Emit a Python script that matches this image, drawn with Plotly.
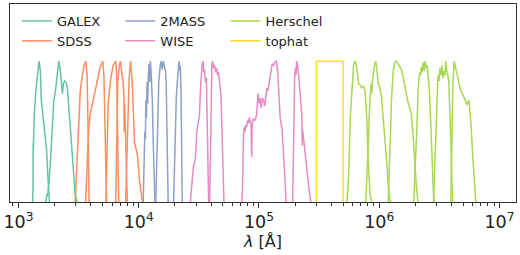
import plotly.graph_objects as go

# ---------------- data: filter transmission curves (wavelength in Angstrom, normalised transmission) -------------
GALEX_FUV_WL = [1310, 1323, 1326, 1333, 1341, 1350, 1393, 1446, 1482, 1500, 1522, 1551, 1575, 1599, 1651, 1714, 1758, 1791, 1810]
GALEX_FUV_T = [0.0, 0.1, 0.42, 0.38, 0.5, 0.6, 0.78, 0.94, 1.0, 0.97, 0.93, 0.72, 0.66, 0.6, 0.52, 0.37, 0.18, 0.03, 0.0]

GALEX_NUV_WL = [1690, 1705, 1727, 1747, 1770, 1791, 1849, 1910, 1969, 2033, 2100, 2164, 2222, 2278, 2321, 2366, 2424, 2489, 2551, 2615, 2700, 2789, 2873, 2968, 3065]
GALEX_NUV_T = [0.0, 0.04, 0.06, 0.04, 0.08, 0.13, 0.3, 0.53, 0.72, 0.79, 0.91, 1.0, 0.95, 0.84, 0.77, 0.84, 0.86, 0.85, 0.81, 0.69, 0.53, 0.34, 0.15, 0.05, 0.0]

SDSS_U_WL = [2968, 3065, 3159, 3263, 3370, 3519, 3634, 3725, 3796, 3868]
SDSS_U_T = [0.0, 0.3, 0.6, 0.78, 0.88, 0.97, 1.0, 0.9, 0.5, 0.0]

SDSS_G_WL = [3620, 3725, 3832, 3943, 4196, 4500, 4764, 5013, 5138, 5285, 5407]
SDSS_G_T = [0.0, 0.25, 0.5, 0.62, 0.72, 0.85, 0.95, 1.0, 0.9, 0.4, 0.0]

SDSS_R_WL = [5336, 5438, 5574, 5866, 6128, 6449, 6571, 6735, 6823]
SDSS_R_T = [0.0, 0.4, 0.7, 0.88, 0.97, 1.0, 0.9, 0.3, 0.0]

SDSS_I_WL = [6449, 6571, 6696, 6888, 7047, 7222, 7430, 7544, 7573, 7644, 7791, 7940, 8045]
SDSS_I_T = [0.0, 0.5, 0.85, 0.96, 1.0, 0.92, 0.85, 0.75, 0.5, 0.7, 0.45, 0.1, 0.0]

SDSS_Z_WL = [7791, 7940, 8091, 8323, 8562, 8843, 9065, 9237, 9502, 9775, 10153, 10544, 10745]
SDSS_Z_T = [0.0, 0.3, 0.6, 0.88, 1.0, 0.85, 0.6, 0.42, 0.38, 0.33, 0.15, 0.03, 0.0]

TMASS_J_WL = [10900, 11050, 11160, 11250, 11370, 11480, 11590, 11740, 11880, 12030, 12200, 12340, 12500, 12670, 12810, 12980, 13230, 13480, 13650]
TMASS_J_T = [0.0, 0.15, 0.3, 0.5, 0.45, 0.72, 0.6, 0.85, 0.7, 0.9, 0.98, 0.85, 1.0, 0.93, 0.85, 0.72, 0.4, 0.05, 0.0]

TMASS_H_WL = [13870, 14270, 14690, 15110, 15400, 15690, 16080, 16390, 16700, 16920, 17240, 17570]
TMASS_H_T = [0.0, 0.4, 0.85, 0.97, 1.0, 0.94, 1.0, 0.96, 0.93, 0.85, 0.4, 0.0]

TMASS_K_WL = [19500, 19880, 20260, 20560, 20950, 21350, 21630, 21930, 22180, 22470, 22770, 23030]
TMASS_K_T = [0.0, 0.3, 0.6, 0.75, 0.85, 0.95, 1.0, 0.93, 0.97, 0.8, 0.4, 0.0]

WISE_W1_WL = [26900, 27680, 28480, 29470, 29860, 30420, 31000, 32010, 32630, 33000, 33630, 34270, 34730, 35390, 35860, 36550, 36960, 37670, 38160]
WISE_W1_T = [0.0, 0.15, 0.25, 0.3, 0.35, 0.5, 0.55, 0.62, 0.8, 0.9, 0.97, 1.0, 0.92, 0.94, 0.85, 0.88, 0.65, 0.2, 0.0]

WISE_W2_WL = [38900, 39490, 40020, 40630, 41170, 41960, 42760, 43580, 44420, 45270, 46130, 47280, 48350, 49270, 50210, 51170]
WISE_W2_T = [0.0, 0.4, 0.85, 0.98, 1.0, 0.95, 0.97, 0.92, 0.95, 0.9, 0.92, 0.85, 0.75, 0.5, 0.2, 0.0]

WISE_W3_WL = [71950, 73050, 74020, 75010, 76440, 77900, 78790, 80300, 81830, 82920, 84500, 86100, 86930, 87760, 89430,
              92360, 95190, 98310, 100190, 101530, 104640, 106640, 109500, 111580, 113720, 116540, 118770, 122640,
              126420, 128830, 132280, 134800, 138990, 140820, 143540, 146280, 149930, 155700, 159880, 162930, 167920]
WISE_W3_T = [0.0, 0.1, 0.41, 0.53, 0.5, 0.55, 0.53, 0.58, 0.56, 0.6, 0.57, 0.55, 0.32, 0.55, 0.59,
             0.58, 0.61, 0.77, 0.7, 0.74, 0.67, 0.74, 0.72, 0.68, 0.74, 0.81, 0.79, 0.86,
             0.93, 0.98, 0.97, 0.99, 1.0, 0.98, 0.91, 0.79, 0.6, 0.51, 0.37, 0.23, 0.0]

WISE_W4_WL = [190600, 193200, 195400, 198000, 200700, 203000, 205700, 209600, 213600, 217700, 223100, 227300, 228600,
              230400, 234800, 239300, 243800, 248500, 255600, 261500, 269500]
WISE_W4_T = [0.0, 0.4, 0.75, 0.88, 0.95, 0.9, 1.0, 0.97, 0.9, 0.8, 0.72, 0.62, 0.4,
             0.52, 0.45, 0.38, 0.32, 0.25, 0.15, 0.08, 0.0]

PACS_BLUE_WL = [539700, 557300, 574400, 593200, 612600, 631300, 652000, 673300, 694000, 716700, 740100, 762800, 787800, 802800, 818100, 838500, 866000]
PACS_BLUE_T = [0.0, 0.2, 0.6, 0.84, 0.98, 1.0, 0.95, 0.84, 0.83, 0.81, 0.82, 0.79, 0.6, 0.37, 0.18, 0.05, 0.0]

PACS_GREEN_WL = [772900, 795300, 813500, 829100, 841700, 854600, 866000, 882500, 911400, 934200, 952100, 983200, 1007700, 1046400, 1076700, 1114000, 1150200, 1187900, 1224600, 1252600]
PACS_GREEN_T = [0.0, 0.2, 0.45, 0.65, 0.78, 0.84, 0.77, 0.88, 0.97, 1.0, 0.95, 0.84, 0.82, 0.74, 0.6, 0.47, 0.3, 0.12, 0.02, 0.0]

PACS_RED_WL = [1187900, 1224600, 1264500, 1305900, 1345900, 1390000, 1435500, 1479500, 1528000, 1577700, 1626300, 1679600, 1734300, 1787800, 1846300, 1906500, 1965200, 2029300, 2095700]
PACS_RED_T = [0.0, 0.37, 0.72, 0.93, 0.99, 1.0, 0.98, 0.97, 0.94, 0.89, 0.84, 0.77, 0.71, 0.66, 0.63, 0.49, 0.3, 0.13, 0.0]

SPIRE_250_WL = [1935700, 1991300, 2048600, 2107400, 2159900, 2201100, 2230700, 2273200, 2316600, 2360800, 2405800, 2451700, 2498900, 2546600, 2609500, 2669600, 2720500, 2772400, 2825900, 2879900]
SPIRE_250_T = [0.0, 0.2, 0.5, 0.8, 0.92, 0.9, 0.96, 0.92, 0.99, 0.93, 1.0, 0.95, 0.97, 0.9, 0.8, 0.6, 0.4, 0.2, 0.05, 0.0]

SPIRE_350_WL = [2825900, 2907200, 2962700, 3019200, 3076800, 3135500, 3196000, 3257000, 3319100, 3382400, 3446900, 3512600, 3579600, 3648600, 3718200, 3789100, 3861400, 3935000, 4010000, 4086500]
SPIRE_350_T = [0.0, 0.3, 0.6, 0.82, 0.9, 0.86, 0.95, 0.9, 0.97, 0.88, 0.93, 0.9, 1.0, 0.92, 0.9, 0.85, 0.7, 0.45, 0.15, 0.0]

SPIRE_500_WL = [3935000, 4010000, 4086500, 4188200, 4284700, 4365200, 4465700, 4602600, 4753400, 4908100, 5059400, 5224000, 5395100, 5561500, 5688500, 5796900, 5964500, 6135900, 6312500, 6432700]
SPIRE_500_T = [0.0, 0.4, 0.8, 1.0, 0.97, 0.93, 0.9, 0.84, 0.79, 0.77, 0.74, 0.72, 0.69, 0.72, 0.64, 0.55, 0.35, 0.15, 0.03, 0.0]

TOPHAT_WL = [300000, 300000, 500000, 500000]
TOPHAT_T = [0.0, 1.0, 1.0, 0.0]

INSTRUMENTS = ["GALEX", "SDSS", "2MASS", "WISE", "Herschel", "tophat"]
FILTERS = {
    "GALEX": [(GALEX_FUV_WL, GALEX_FUV_T), (GALEX_NUV_WL, GALEX_NUV_T)],
    "SDSS": [(SDSS_U_WL, SDSS_U_T), (SDSS_G_WL, SDSS_G_T), (SDSS_R_WL, SDSS_R_T), (SDSS_I_WL, SDSS_I_T), (SDSS_Z_WL, SDSS_Z_T)],
    "2MASS": [(TMASS_J_WL, TMASS_J_T), (TMASS_H_WL, TMASS_H_T), (TMASS_K_WL, TMASS_K_T)],
    "WISE": [(WISE_W1_WL, WISE_W1_T), (WISE_W2_WL, WISE_W2_T), (WISE_W3_WL, WISE_W3_T), (WISE_W4_WL, WISE_W4_T)],
    "Herschel": [(PACS_BLUE_WL, PACS_BLUE_T), (PACS_GREEN_WL, PACS_GREEN_T), (PACS_RED_WL, PACS_RED_T),
                 (SPIRE_250_WL, SPIRE_250_T), (SPIRE_350_WL, SPIRE_350_T), (SPIRE_500_WL, SPIRE_500_T)],
    "tophat": [(TOPHAT_WL, TOPHAT_T)],
}

# ---------------- styles ----------------
COLORS = {"GALEX": "#66c2a5", "SDSS": "#fc8d62", "2MASS": "#8da0cb",
          "WISE": "#e78ac3", "Herschel": "#a6d854", "tophat": "#ffd92f"}
LEGEND_OF = {"GALEX": "legend", "SDSS": "legend", "2MASS": "legend2",
             "WISE": "legend2", "Herschel": "legend3", "tophat": "legend3"}
FONT = "DejaVu Sans"

fig = go.Figure()
for inst in INSTRUMENTS:
    xs, ys = [], []
    for wl, t in FILTERS[inst]:
        xs += list(wl) + [None]
        ys += list(t) + [None]
    fig.add_trace(go.Scatter(x=xs, y=ys, mode="lines", name=inst,
                             line=dict(color=COLORS[inst], width=1.5),
                             legend=LEGEND_OF[inst], connectgaps=False))

leg_common = dict(font=dict(family=FONT, size=13, color="#222"), bgcolor="rgba(0,0,0,0)",
                  yanchor="top", xanchor="left", y=0.99, borderwidth=0, orientation="v")
fig.update_layout(
    width=520, height=255,
    margin=dict(l=4, r=4, t=3, b=53),
    paper_bgcolor="white", plot_bgcolor="white",
    font=dict(family=FONT, color="#222"),
    legend=dict(x=0.0137, **leg_common),
    legend2=dict(x=0.2180, **leg_common),
    legend3=dict(x=0.4260, **leg_common),
    xaxis=dict(type="log", range=[2.930, 7.137], dtick=1, exponentformat="power",
               showline=True, linecolor="#333", linewidth=1, mirror=True,
               ticks="outside", ticklen=5, tickwidth=1, tickcolor="#333",
               minor=dict(ticks="outside", ticklen=3, tickwidth=0.8, tickcolor="#333", dtick="D1", showgrid=False),
               showgrid=False, zeroline=False, ticklabeloverflow="allow",
               tickfont=dict(family=FONT, size=14, color="#222"),
               title=dict(text="<i>λ</i> [Å]", font=dict(family=FONT, size=16, color="#222"), standoff=4)),
    yaxis=dict(range=[0, 1.406], showline=True, linecolor="#333", linewidth=1, mirror=True,
               showticklabels=False, ticks="", showgrid=False, zeroline=False),
)

fig.write_html("out.html", config={"displayModeBar": False},
               post_script="document.body.style.margin='0';document.body.style.padding='0';")
